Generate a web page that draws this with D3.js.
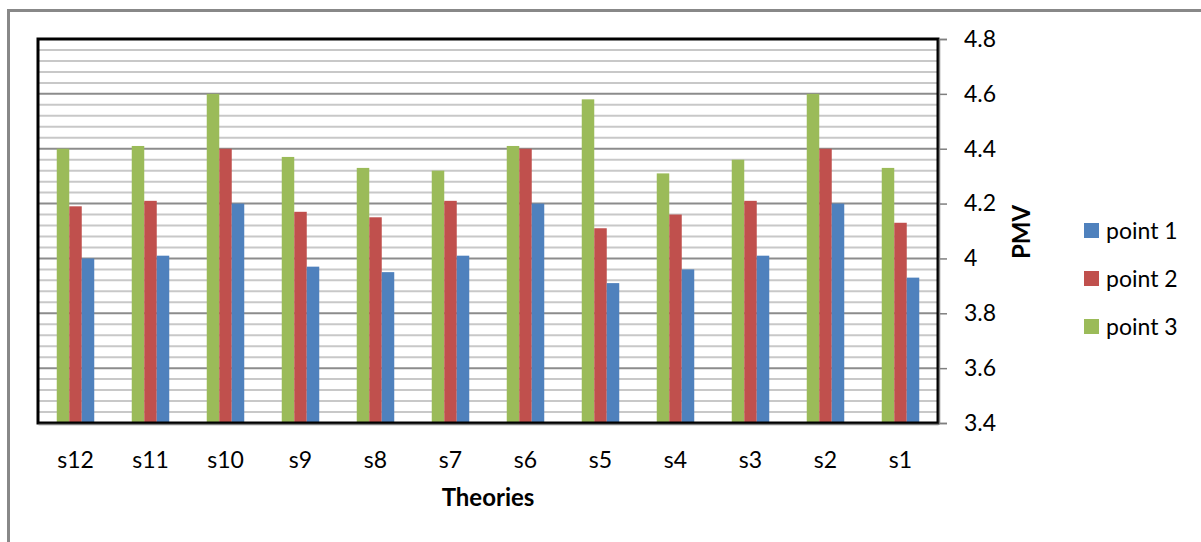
<!DOCTYPE html>
<html>
<head>
<meta charset="utf-8">
<script src="https://cdn.jsdelivr.net/npm/d3@7"></script>
<style>
  html, body { margin: 0; padding: 0; background: #fff; }
  svg { display: block; font-family: Lato, "Noto Sans", sans-serif; }
</style>
</head>
<body>
<svg id="chart" width="1201" height="542"></svg>
<script>
// Categories, shown right-to-left from s1 to s12
const categories = ["s12", "s11", "s10", "s9", "s8", "s7", "s6", "s5", "s4", "s3", "s2", "s1"];
const point1 = [4.00, 4.01, 4.20, 3.97, 3.95, 4.01, 4.20, 3.91, 3.96, 4.01, 4.20, 3.93];
const point2 = [4.19, 4.21, 4.40, 4.17, 4.15, 4.21, 4.40, 4.11, 4.16, 4.21, 4.40, 4.13];
const point3 = [4.40, 4.41, 4.60, 4.37, 4.33, 4.32, 4.41, 4.58, 4.31, 4.36, 4.60, 4.33];
const seriesNames = ["point 1", "point 2", "point 3"];
const seriesColors = ["#4F81BD", "#C0504D", "#9BBB59"];
const yTicks = [3.4, 3.6, 3.8, 4.0, 4.2, 4.4, 4.6, 4.8];

const svg = d3.select("#chart");
const plot = { left: 38, right: 938, top: 39, bottom: 423 };

// Outer chart frame
svg.append("rect")
  .attr("x", 8.5).attr("y", 10.5)
  .attr("width", 1300).attr("height", 600)
  .attr("fill", "none").attr("stroke", "#888").attr("stroke-width", 3);

const x = d3.scaleBand().domain(categories).range([plot.left, plot.right]).padding(0);
const y = d3.scaleLinear().domain([3.4, 4.8]).range([plot.bottom, plot.top]);

// Minor gridlines every 0.04, major every 0.2
const minor = d3.range(0, 36).map(i => +(3.4 + i * 0.04).toFixed(2)).filter(v => !yTicks.some(t => Math.abs(t - v) < 1e-6));
svg.append("g").selectAll("line").data(minor).join("line")
  .attr("x1", plot.left).attr("x2", plot.right)
  .attr("y1", d => y(d)).attr("y2", d => y(d))
  .attr("stroke", "#c8c8c8").attr("stroke-width", 2);
svg.append("g").selectAll("line").data(yTicks).join("line")
  .attr("x1", plot.left).attr("x2", plot.right)
  .attr("y1", d => y(d)).attr("y2", d => y(d))
  .attr("stroke", "#8c8c8c").attr("stroke-width", 2);

// Bars: within each band the series run point 3, point 2, point 1
const order = [2, 1, 0];
const seriesData = [point1, point2, point3];
const inner = d3.scaleBand().domain(order).range([0, x.bandwidth()]).paddingOuter(1.5).paddingInner(0);
const barsG = svg.append("g");
order.forEach(s => {
  barsG.append("g").selectAll("rect").data(categories).join("rect")
    .attr("x", (c) => x(c) + inner(s))
    .attr("width", inner.bandwidth())
    .attr("y", (c, i) => y(seriesData[s][i]))
    .attr("height", (c, i) => y(3.4) - y(seriesData[s][i]))
    .attr("fill", seriesColors[s]);
});

// Plot border
svg.append("rect")
  .attr("x", plot.left).attr("y", plot.top)
  .attr("width", plot.right - plot.left).attr("height", plot.bottom - plot.top)
  .attr("fill", "none").attr("stroke", "#000").attr("stroke-width", 3);

// Right value axis
const yAxis = d3.axisRight(y).tickValues(yTicks).tickSize(8).tickPadding(17)
  .tickFormat(d => d3.format("")(d));
const ya = svg.append("g").attr("transform", `translate(${plot.right + 1},0)`).call(yAxis);
ya.select(".domain").attr("stroke", "#7f7f7f").attr("stroke-width", 1.5);
ya.selectAll(".tick line").attr("stroke", "#7f7f7f").attr("stroke-width", 1.5);
ya.selectAll(".tick text").attr("font-size", 23).attr("fill", "#000")
  .attr("font-family", "Lato, 'Noto Sans', sans-serif");

// Category axis
const xAxis = d3.axisBottom(x).tickSize(0).tickPadding(28);
const xa = svg.append("g").attr("transform", `translate(0,${plot.bottom + 1})`).call(xAxis);
xa.select(".domain").attr("stroke", "#7f7f7f").attr("stroke-width", 1.5);
xa.selectAll(".tick text").attr("font-size", 23).attr("fill", "#000")
  .attr("font-family", "Lato, 'Noto Sans', sans-serif");

// Axis titles
svg.append("text").attr("x", 488).attr("y", 506).attr("text-anchor", "middle")
  .attr("font-size", 24).attr("font-weight", "bold").text("Theories");
svg.append("text").attr("transform", "translate(1030,232) rotate(-90)")
  .attr("text-anchor", "middle").attr("font-size", 24).attr("font-weight", "bold").text("PMV");

// Legend
const legend = svg.append("g").attr("transform", "translate(1084,223)");
seriesNames.forEach((name, i) => {
  const g = legend.append("g").attr("transform", `translate(0,${i * 48})`);
  g.append("rect").attr("width", 15).attr("height", 15).attr("fill", seriesColors[i]);
  g.append("text").attr("x", 22).attr("y", 8).attr("dy", "0.35em")
    .attr("font-size", 23).text(name);
});
</script>
</body>
</html>
